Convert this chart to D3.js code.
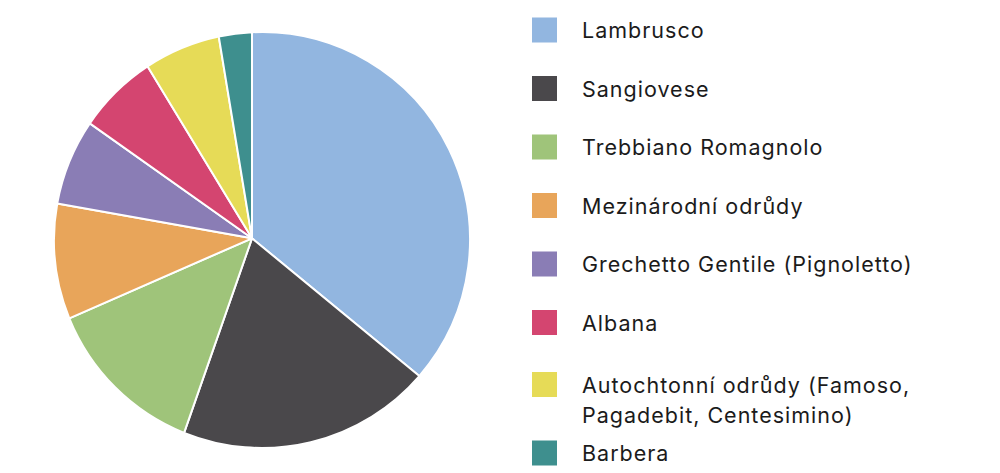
<!DOCTYPE html>
<html>
<head>
<meta charset="utf-8">
<script src="https://cdn.jsdelivr.net/npm/d3@7"></script>
<style>
  body { margin: 0; background: #fff; }
  svg { display: block; }
  .legend text { font-family: Inter, "Noto Sans", sans-serif; font-size: 21.5px; letter-spacing: 1px; fill: #1b1b1b; }
</style>
</head>
<body>
<svg id="chart" width="1000" height="473"></svg>
<script>
'use strict'

// share of each variety
const varieties = ['Lambrusco', 'Sangiovese', 'Trebbiano Romagnolo', 'Mezinárodní odrůdy',
  'Grechetto Gentile (Pignoletto)', 'Albana', 'Autochtonní odrůdy (Famoso,\nPagadebit, Centesimino)', 'Barbera']
const shares = [36.0, 19.4, 13.1, 9.4, 7.0, 6.5, 6.1, 2.6]
const colors = ['#92b6e0', '#4a484b', '#9fc47a', '#e8a55a', '#8a7db5', '#d44570', '#e6db57', '#3e8f8e']

const svg = d3.select('#chart')

// the slices meet a little left of the circle's centre in the original
const vertex = {x: 252, y: 238.3}
const circle = {x: 262, y: 240, r: 208}

const color = d3.scaleOrdinal().domain(varieties).range(colors)

const pie = d3.pie().sort(null).value(d => d.share)
const rows = varieties.map((v, i) => ({name: v, share: shares[i]}))
const arcs = pie(rows)

// where a ray from the vertex at angle a (clockwise from north) hits the rim
function rim(a) {
  const dx = Math.sin(a), dy = -Math.cos(a)
  const wx = vertex.x - circle.x, wy = vertex.y - circle.y
  const b = wx * dx + wy * dy
  const c = wx * wx + wy * wy - circle.r * circle.r
  const t = -b + Math.sqrt(b * b - c)
  return [vertex.x + t * dx, vertex.y + t * dy]
}

function slicePath(d) {
  const p0 = rim(d.startAngle), p1 = rim(d.endAngle)
  let a0 = Math.atan2(p0[1] - circle.y, p0[0] - circle.x)
  let a1 = Math.atan2(p1[1] - circle.y, p1[0] - circle.x)
  let span = a1 - a0
  if (span < 0) span += 2 * Math.PI
  const p = d3.path()
  p.moveTo(vertex.x, vertex.y)
  p.lineTo(p0[0], p0[1])
  p.arc(circle.x, circle.y, circle.r, a0, a0 + span, false)
  p.closePath()
  return p.toString()
}

svg.append('g')
  .selectAll('path')
  .data(arcs)
  .join('path')
    .attr('d', slicePath)
    .attr('fill', d => color(d.data.name))
    .attr('stroke', '#ffffff')
    .attr('stroke-width', 2)
    .attr('stroke-linejoin', 'round')

// LEGEND
const legend = svg.append('g').attr('class', 'legend')
const rowY = i => 30 + i * 58.5 + (i >= 6 ? 3.5 : 0) + (i >= 7 ? 10 : 0)

const item = legend.selectAll('g')
  .data(varieties)
  .join('g')
    .attr('transform', (d, i) => `translate(532,${rowY(i)})`)

item.append('rect')
  .attr('x', 0)
  .attr('y', -12.5)
  .attr('width', 25)
  .attr('height', 25)
  .attr('fill', d => color(d))

item.append('text')
  .attr('x', 50)
  .attr('y', 8)
  .selectAll('tspan')
  .data(d => d.split('\n'))
  .join('tspan')
    .attr('x', 50)
    .attr('dy', (d, i) => i ? 30 : 0)
    .text(d => d)
</script>
</body>
</html>
